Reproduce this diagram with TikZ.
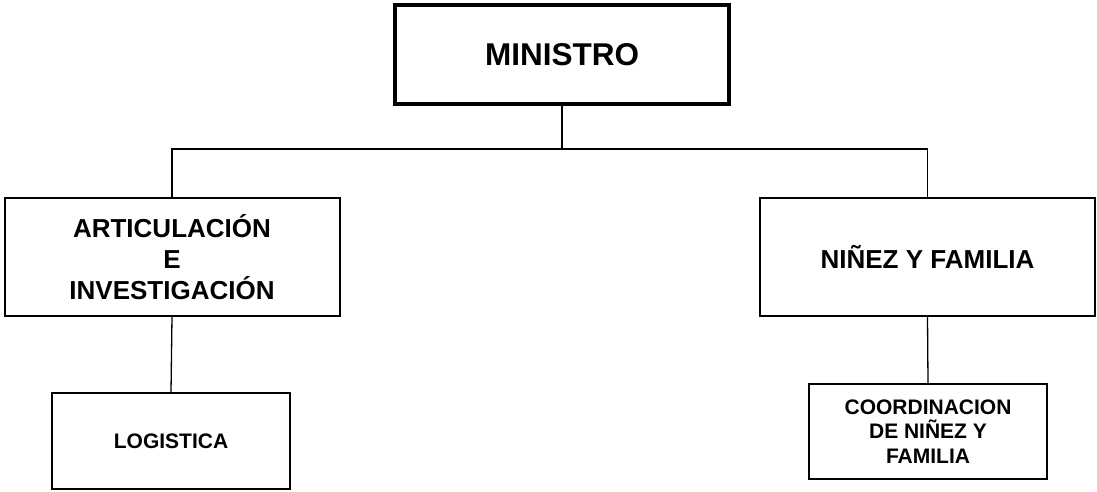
\documentclass[tikz,border=0pt]{standalone}
\usepackage{fontspec}
\setmainfont{Liberation Sans}
\usepackage{tikz}
\usetikzlibrary{positioning}

\begin{document}
\begin{tikzpicture}[x=1pt,y=-1pt,
	unidad/.style={draw,line width=2pt,align=center,inner sep=0pt,
		font=\fontsize{26}{31}\selectfont\bfseries},
	subunidad/.style={unidad,font=\fontsize{21}{24.5}\selectfont\bfseries},
	linea/.style={line width=1.3pt}
	]
	\useasboundingbox (0,0) rectangle (1097,491);
	\def\w{335}
	\def\h{118}
	\node[unidad,line width=4pt,minimum width=334pt,minimum height=99pt,
		font=\fontsize{31.5}{36}\selectfont\bfseries] (min) at (562,54.5) {MINISTRO};
	\node[unidad,minimum width=\w pt,minimum height=\h pt] (art) at (172,257)
		{ARTICULACIÓN\\E\\INVESTIGACIÓN};
	\node[unidad,minimum width=\w pt,minimum height=\h pt] (nin) at (927.5,257)
		{NIÑEZ Y FAMILIA};
	\node[subunidad,minimum width=238pt,minimum height=96pt] (log) at (171,441)
		{LOGISTICA};
	\node[subunidad,minimum width=238pt,minimum height=95pt] (coo) at (928,431.5)
		{COORDINACION\\DE NIÑEZ Y\\FAMILIA};
	% conectores
	\draw[linea] (min.south) -- ++(0,43) coordinate (bus);
	\draw[linea] (art.north) |- (bus) -| (nin.north);
	\draw[linea] (art.south) -- (log.north);
	\draw[linea] (nin.south) -- (coo.north);
\end{tikzpicture}
\end{document}
